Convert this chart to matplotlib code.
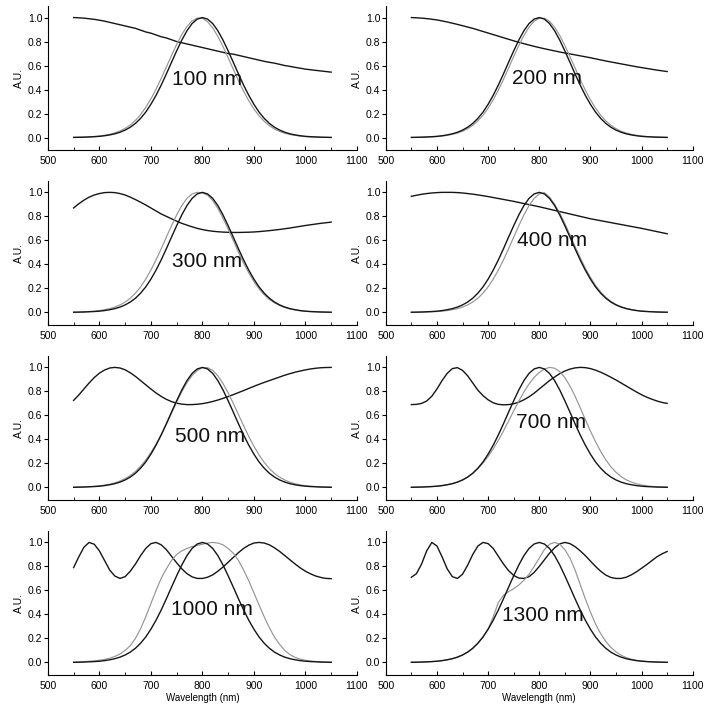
import numpy as np
import matplotlib
matplotlib.use("Agg")
from matplotlib import pyplot as plt
from matplotlib.ticker import MultipleLocator, FormatStrFormatter

plt.rcParams['font.family'] = ['Liberation Sans', 'DejaVu Sans']

# wavelength grid (nm)
wl = np.arange(550, 1051, 10)

# input pulse, same in every panel
pulse_in = [0.001, 0.002, 0.003, 0.005, 0.007, 0.010, 0.015, 0.022, 0.031, 0.044,
            0.062, 0.086, 0.118, 0.160, 0.212, 0.277, 0.352, 0.437, 0.530, 0.627,
            0.722, 0.812, 0.890, 0.950, 0.987, 1.000, 0.987, 0.950, 0.890, 0.812,
            0.722, 0.627, 0.530, 0.437, 0.352, 0.277, 0.212, 0.160, 0.118, 0.086,
            0.062, 0.044, 0.031, 0.022, 0.015, 0.010, 0.007, 0.005, 0.003, 0.002, 0.001]

# output pulses (grey)
out_100 = [0.002, 0.003, 0.004, 0.006, 0.009, 0.013, 0.019, 0.027, 0.039, 0.055,
           0.076, 0.105, 0.143, 0.191, 0.251, 0.322, 0.403, 0.493, 0.588, 0.684,
           0.776, 0.859, 0.926, 0.972, 0.995, 0.995, 0.965, 0.914, 0.843, 0.758,
           0.665, 0.569, 0.474, 0.386, 0.307, 0.238, 0.181, 0.135, 0.099, 0.071,
           0.051, 0.036, 0.025, 0.018, 0.012, 0.008, 0.006, 0.004, 0.002, 0.001, 0.001]
out_200 = [0.001, 0.0015, 0.0025, 0.004, 0.006, 0.0085, 0.0125, 0.0185, 0.0265, 0.0375,
           0.053, 0.074, 0.102, 0.139, 0.186, 0.245, 0.315, 0.395, 0.484, 0.579,
           0.675, 0.767, 0.851, 0.920, 0.969, 0.994, 0.994, 0.969, 0.920, 0.851,
           0.767, 0.675, 0.579, 0.484, 0.395, 0.315, 0.245, 0.186, 0.139, 0.102,
           0.074, 0.053, 0.0375, 0.0265, 0.0185, 0.0125, 0.0085, 0.006, 0.004, 0.0025, 0.0015]
out_300 = [0.002, 0.003, 0.005, 0.007, 0.010, 0.015, 0.022, 0.031, 0.044, 0.062,
           0.086, 0.118, 0.160, 0.212, 0.277, 0.352, 0.437, 0.530, 0.627, 0.722,
           0.812, 0.890, 0.950, 0.987, 1.000, 0.996, 0.976, 0.932, 0.867, 0.785,
           0.693, 0.598, 0.502, 0.411, 0.329, 0.257, 0.196, 0.147, 0.108, 0.079,
           0.057, 0.040, 0.028, 0.020, 0.013, 0.009, 0.006, 0.004, 0.003, 0.002, 0.001]
out_400 = [0.001, 0.001, 0.002, 0.003, 0.005, 0.007, 0.010, 0.015, 0.022, 0.031,
           0.044, 0.062, 0.086, 0.118, 0.160, 0.212, 0.277, 0.352, 0.437, 0.530,
           0.627, 0.722, 0.812, 0.890, 0.950, 0.987, 0.998, 0.960, 0.902, 0.828,
           0.741, 0.646, 0.549, 0.456, 0.369, 0.292, 0.225, 0.170, 0.126, 0.092,
           0.066, 0.048, 0.034, 0.024, 0.016, 0.011, 0.008, 0.005, 0.004, 0.002, 0.001]
out_500 = [0.002, 0.003, 0.004, 0.006, 0.009, 0.013, 0.019, 0.027, 0.038, 0.053,
           0.073, 0.099, 0.133, 0.176, 0.228, 0.290, 0.360, 0.440, 0.527, 0.618,
           0.710, 0.797, 0.872, 0.932, 0.975, 0.997, 0.998, 0.975, 0.930, 0.866,
           0.788, 0.700, 0.607, 0.514, 0.425, 0.343, 0.270, 0.208, 0.157, 0.116,
           0.085, 0.061, 0.043, 0.030, 0.021, 0.014, 0.010, 0.007, 0.004, 0.003, 0.002]
out_700 = [0.001, 0.002, 0.003, 0.005, 0.007, 0.010, 0.015, 0.022, 0.031, 0.044,
           0.062, 0.086, 0.117, 0.156, 0.203, 0.258, 0.321, 0.392, 0.470, 0.553,
           0.637, 0.719, 0.795, 0.862, 0.917, 0.958, 0.986, 1.000, 0.993, 0.965,
           0.915, 0.845, 0.760, 0.665, 0.565, 0.470, 0.380, 0.300, 0.230, 0.172,
           0.126, 0.090, 0.063, 0.044, 0.030, 0.020, 0.013, 0.008, 0.005, 0.003, 0.002]
out_1000 = [0.002, 0.004, 0.007, 0.010, 0.013, 0.018, 0.025, 0.035, 0.050, 0.070,
            0.100, 0.140, 0.200, 0.280, 0.380, 0.490, 0.600, 0.700, 0.780, 0.850,
            0.900, 0.930, 0.950, 0.965, 0.975, 0.985, 0.995, 1.000, 0.995, 0.980,
            0.950, 0.910, 0.850, 0.770, 0.680, 0.580, 0.480, 0.380, 0.290, 0.210,
            0.150, 0.100, 0.065, 0.042, 0.027, 0.018, 0.012, 0.008, 0.005, 0.003, 0.002]
out_1300 = [0.001, 0.002, 0.003, 0.005, 0.007, 0.010, 0.015, 0.022, 0.031, 0.044,
            0.062, 0.086, 0.118, 0.160, 0.212, 0.277, 0.380, 0.500, 0.560, 0.590,
            0.615, 0.645, 0.685, 0.735, 0.800, 0.870, 0.940, 0.985, 1.000, 0.985,
            0.940, 0.870, 0.770, 0.650, 0.530, 0.420, 0.320, 0.240, 0.175, 0.125,
            0.088, 0.060, 0.040, 0.027, 0.018, 0.012, 0.008, 0.005, 0.003, 0.002, 0.001]

# transmission curves (black)
tr_100 = [1.000, 0.998, 0.995, 0.990, 0.985, 0.978, 0.970, 0.960, 0.950, 0.940,
          0.930, 0.920, 0.910, 0.895, 0.880, 0.870, 0.855, 0.840, 0.830, 0.815,
          0.800, 0.790, 0.780, 0.770, 0.760, 0.750, 0.740, 0.730, 0.720, 0.710,
          0.700, 0.695, 0.685, 0.675, 0.665, 0.655, 0.645, 0.635, 0.627, 0.620,
          0.610, 0.600, 0.593, 0.585, 0.578, 0.570, 0.565, 0.560, 0.555, 0.550, 0.545]
tr_200 = [1.000, 0.998, 0.995, 0.991, 0.986, 0.980, 0.972, 0.963, 0.953, 0.943,
          0.932, 0.921, 0.910, 0.897, 0.884, 0.871, 0.858, 0.845, 0.832, 0.819,
          0.806, 0.794, 0.782, 0.771, 0.760, 0.750, 0.740, 0.731, 0.722, 0.713,
          0.705, 0.697, 0.689, 0.681, 0.673, 0.665, 0.656, 0.647, 0.638, 0.630,
          0.622, 0.614, 0.606, 0.598, 0.590, 0.583, 0.576, 0.569, 0.562, 0.556, 0.550]
tr_300 = [0.870, 0.905, 0.935, 0.960, 0.978, 0.990, 0.998, 1.000, 0.998, 0.990,
          0.978, 0.960, 0.940, 0.918, 0.895, 0.870, 0.845, 0.820, 0.800, 0.780,
          0.760, 0.742, 0.727, 0.713, 0.700, 0.690, 0.682, 0.676, 0.672, 0.669,
          0.667, 0.666, 0.666, 0.667, 0.668, 0.670, 0.673, 0.677, 0.681, 0.686,
          0.691, 0.697, 0.703, 0.710, 0.717, 0.724, 0.730, 0.736, 0.742, 0.747, 0.752]
tr_400 = [0.967, 0.976, 0.984, 0.990, 0.995, 0.998, 1.000, 1.000, 1.000, 0.998,
          0.995, 0.990, 0.985, 0.979, 0.972, 0.965, 0.957, 0.949, 0.941, 0.933,
          0.925, 0.916, 0.907, 0.898, 0.889, 0.880, 0.870, 0.860, 0.850, 0.840,
          0.830, 0.820, 0.810, 0.800, 0.790, 0.780, 0.772, 0.764, 0.756, 0.748,
          0.740, 0.732, 0.724, 0.716, 0.708, 0.700, 0.691, 0.682, 0.673, 0.664, 0.655]
tr_500 = [0.725, 0.770, 0.820, 0.870, 0.915, 0.952, 0.978, 0.995, 1.000, 0.995,
          0.980, 0.955, 0.925, 0.890, 0.855, 0.820, 0.787, 0.758, 0.734, 0.715,
          0.702, 0.694, 0.690, 0.690, 0.693, 0.698, 0.706, 0.716, 0.728, 0.742,
          0.757, 0.773, 0.790, 0.807, 0.825, 0.842, 0.859, 0.875, 0.890, 0.905,
          0.920, 0.935, 0.948, 0.960, 0.970, 0.979, 0.987, 0.993, 0.997, 0.999, 1.000]
tr_700 = [0.690, 0.692, 0.700, 0.720, 0.760, 0.820, 0.890, 0.950, 0.990, 0.998,
          0.975, 0.930, 0.870, 0.810, 0.765, 0.730, 0.705, 0.692, 0.688, 0.690,
          0.697, 0.710, 0.730, 0.755, 0.785, 0.820, 0.855, 0.890, 0.920, 0.948,
          0.970, 0.986, 0.996, 1.000, 0.998, 0.990, 0.977, 0.960, 0.940, 0.918,
          0.895, 0.870, 0.845, 0.820, 0.795, 0.772, 0.752, 0.735, 0.720, 0.708, 0.700]
tr_1000 = [0.790, 0.880, 0.960, 1.000, 0.985, 0.930, 0.850, 0.770, 0.720, 0.700,
           0.715, 0.760, 0.820, 0.890, 0.950, 0.990, 1.000, 0.980, 0.940, 0.885,
           0.830, 0.780, 0.740, 0.713, 0.700, 0.700, 0.710, 0.730, 0.760, 0.795,
           0.835, 0.875, 0.915, 0.950, 0.977, 0.995, 1.000, 0.995, 0.980, 0.955,
           0.925, 0.890, 0.855, 0.820, 0.788, 0.760, 0.738, 0.720, 0.708, 0.700, 0.698]
tr_1300 = [0.710, 0.740, 0.820, 0.930, 1.000, 0.970, 0.880, 0.780, 0.715, 0.700,
           0.735, 0.810, 0.900, 0.970, 1.000, 0.990, 0.950, 0.885, 0.820, 0.765,
           0.725, 0.703, 0.700, 0.715, 0.750, 0.800, 0.855, 0.910, 0.955, 0.988,
           1.000, 0.990, 0.965, 0.930, 0.890, 0.845, 0.800, 0.760, 0.728, 0.708,
           0.700, 0.700, 0.710, 0.730, 0.755, 0.785, 0.815, 0.848, 0.880, 0.905, 0.925]

labels = ['100 nm', '200 nm', '300 nm', '400 nm', '500 nm', '700 nm', '1000 nm', '1300 nm']
outs = [out_100, out_200, out_300, out_400, out_500, out_700, out_1000, out_1300]
trs = [tr_100, tr_200, tr_300, tr_400, tr_500, tr_700, tr_1000, tr_1300]
# label anchor (left edge, vertical centre) in data units
label_pos = [(741, 0.48), (746, 0.49), (741, 0.42), (756, 0.60),
             (747, 0.425), (754, 0.54), (739, 0.44), (727, 0.39)]

fig = plt.figure(figsize=(7.04, 7.15), dpi=100)
lefts = [0.068, 0.548]
widths = [0.439, 0.436]
bottoms = [0.790, 0.5455, 0.3007, 0.0559]
h = 0.2014

for i in range(8):
    r, c = divmod(i, 2)
    ax = fig.add_axes([lefts[c], bottoms[r], widths[c], h])
    ax.plot(wl, trs[i], color='#151515', lw=1.0)
    ax.plot(wl, outs[i], color='#959595', lw=0.85)
    ax.plot(wl, pulse_in, color='#151515', lw=1.0)
    ax.text(label_pos[i][0], label_pos[i][1], labels[i], fontsize=15,
            ha='left', va='center', color='#111111')
    ax.set_xlim(500, 1100)
    ax.set_ylim(-0.105, 1.095)
    ax.spines['top'].set_visible(False)
    ax.spines['right'].set_visible(False)
    ax.xaxis.set_major_locator(MultipleLocator(100))
    ax.xaxis.set_minor_locator(MultipleLocator(50))
    ax.yaxis.set_major_locator(MultipleLocator(0.2))
    ax.yaxis.set_major_formatter(FormatStrFormatter('%.1f'))
    ax.tick_params(axis='x', which='major', direction='in', length=3, pad=4, labelsize=7.5)
    ax.tick_params(axis='x', which='minor', direction='in', length=2)
    ax.tick_params(axis='y', direction='out', length=3, pad=1, labelsize=7.5)
    ax.set_ylabel('A.U.', fontsize=7.5, labelpad=3)
    if r == 3:
        ax.set_xlabel('Wavelength (nm)', fontsize=7, labelpad=2)

plt.savefig('out.png', dpi=100)
